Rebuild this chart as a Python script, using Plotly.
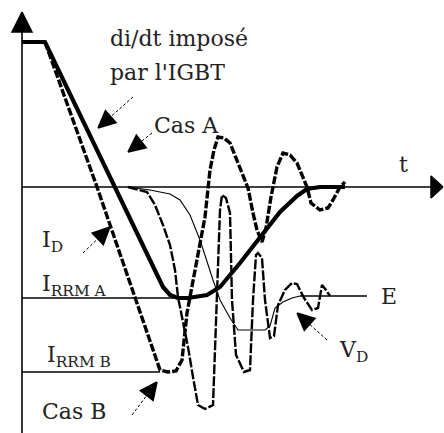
import numpy as np
import plotly.graph_objects as go

FONT = "DejaVu Serif"

# Time (t) and current/voltage (i) samples, t-axis at i = 0
# Case A diode current I_D (smooth recovery)
idA_t = [0, 23, 141, 148, 156, 166, 185, 198, 218, 238, 258, 275, 285, 298, 323]
idA_i = [145, 145, -100, -108, -111, -111, -108, -100, -76, -50, -25, -9, -2, 0, 0]

# Case B diode current (snappy recovery with ringing)
idB_t = [23, 75, 138, 146, 154, 160, 165, 169, 174, 183, 188, 192, 196, 202, 208,
         216, 226, 231, 235, 240, 244, 249, 255, 261, 268, 275, 281, 285, 289, 298,
         306, 311, 318, 323]
idB_i = [145, 0, -183, -185, -184, -173, -126, -103, -78, -30, 17, 37, 50, 49, 44,
         24, -1, -26, -43, -55, -41, -10, 20, 34, 32, 24, 10, 0, -16, -23,
         -21, -13, 0, 5]

# Case B diode voltage V_D (oscillating)
vdB_t = [106, 125, 133, 141, 148, 153, 156, 161, 166, 171, 176, 183, 191, 193, 195,
         198, 200, 204, 208, 210, 214, 222, 228, 231, 234, 236, 240, 243, 248, 252,
         256, 263, 270, 275, 282, 290, 296, 300, 304, 308]
vdB_i = [0, -5, -18, -38, -58, -83, -110, -136, -160, -190, -218, -222, -218, -163, -113,
         -23, -8, -11, -26, -113, -168, -185, -183, -113, -68, -66, -71, -113, -151, -149,
         -118, -103, -96, -97, -111, -123, -121, -98, -103, -109]

# Case A diode voltage V_D (damped)
vdA_t = [106, 128, 148, 158, 168, 178, 191, 198, 208, 216, 243, 248, 253, 261, 270, 278]
vdA_i = [0, -3, -7, -13, -28, -53, -93, -113, -131, -143, -143, -139, -121, -115, -111, -109]

# Reference levels
irrmA_t, irrmA_i = [0, 156], [-111, -111]
irrmB_t, irrmB_i = [0, 138], [-185, -185]
e_t, e_i = [278, 345], [-109, -109]

# Axes extents
vaxis_t, vaxis_i = [0, 0], [-246, 160]
haxis_t, haxis_i = [0, 411], [0, 0]
vaxis_tip, vaxis_from = (0, 175), (0, 0)
haxis_tip, haxis_from = (421, 0), (0, 0)

# Pointer arrows: (tail, tip)
pointers = [
    ((111, 90), (76, 59)),
    ((130, 54), (106, 35)),
    ((61, -66), (88, -40)),
    ((110, -228), (135, -195)),
    ((305, -153), (275, -126)),
]

# Labels: (text, t, i, xanchor)
labels = [
    ("di/dt imposé", 86, 149, "left"),
    ("par l'IGBT", 86, 115, "left"),
    ("Cas A", 130, 62, "left"),
    ("t", 381, 23, "center"),
    ("I<sub>D</sub>", 18, -54, "left"),
    ("I<sub>RRM A</sub>", 18, -98, "left"),
    ("I<sub>RRM B</sub>", 23, -169, "left"),
    ("Cas B", 18, -224, "left"),
    ("E", 357, -109, "left"),
    ("V<sub>D</sub>", 315, -164, "left"),
]


def head_xy(tip, tail, length, half):
    tip = np.asarray(tip, float)
    tail = np.asarray(tail, float)
    d = tip - tail
    d /= np.linalg.norm(d)
    n = np.array([-d[1], d[0]])
    base = tip - d * length
    pts = [tip, base + n * half, base - n * half, tip]
    return [float(p[0]) for p in pts], [float(p[1]) for p in pts]


fig = go.Figure()


def line(t, i, width, dash="solid", color="black"):
    fig.add_trace(go.Scatter(x=t, y=i, mode="lines", hoverinfo="skip",
                             line=dict(color=color, width=width, dash=dash)))


def tri(xs, ys):
    fig.add_trace(go.Scatter(x=xs, y=ys, mode="lines", fill="toself",
                             fillcolor="black", hoverinfo="skip",
                             line=dict(color="black", width=1.5)))


# axes
line(vaxis_t, vaxis_i, 1.6)
line(haxis_t, haxis_i, 1.6)
tri(*head_xy(vaxis_tip, vaxis_from, 20, 10))
tri(*head_xy(haxis_tip, haxis_from, 12, 11))

# reference levels
line(irrmA_t, irrmA_i, 1.5)
line(irrmB_t, irrmB_i, 1.5)
line(e_t, e_i, 1.5)

# curves
line(vdA_t, vdA_i, 1.1)
line(vdB_t, vdB_i, 2.4, dash="10px,2px")
line(idB_t, idB_i, 3.4, dash="8px,2px")
line(idA_t, idA_i, 4.2)

# pointer arrows
for tail, tip in pointers:
    line([tail[0], tip[0]], [tail[1], tip[1]], 1, dash="3px,2px")
    tri(*head_xy(tip, tail, 17, 8))

for text, t, i, xa in labels:
    fig.add_annotation(x=t, y=i, text=text, showarrow=False, xanchor=xa,
                       yanchor="middle",
                       font=dict(family=FONT, size=22, color="#222"))

fig.update_layout(
    width=444, height=433,
    margin=dict(l=0, r=0, t=0, b=0),
    paper_bgcolor="white", plot_bgcolor="white",
    showlegend=False,
    xaxis=dict(range=[-22, 422], visible=False, fixedrange=True),
    yaxis=dict(range=[-246, 187], visible=False, fixedrange=True),
)

fig.write_html("out.html", config={"displayModeBar": False})
